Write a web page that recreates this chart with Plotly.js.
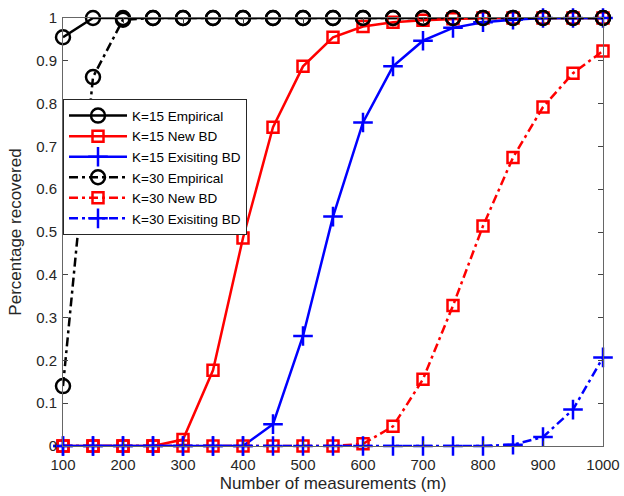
<!DOCTYPE html>
<html>
<head>
<meta charset="utf-8">
<script src="https://cdn.plot.ly/plotly-3.0.1.min.js"></script>
<style>html,body{margin:0;padding:0;background:#fff;}#chart{width:624px;height:496px;}</style>
</head>
<body>
<div id="chart"></div>
<script>
var m = [100,150,200,250,300,350,400,450,500,550,600,650,700,750,800,850,900,950,1000];
var k15Empirical = [0.955,1,1,1,1,1,1,1,1,1,1,1,1,1,1,1,1,1,1];
var k15NewBD = [0,0,0,0,0.015,0.177,0.486,0.745,0.887,0.955,0.98,0.99,0.995,0.998,1,1,1,1,1];
var k15ExistingBD = [0,0,0,0,0,0,0,0.051,0.257,0.536,0.756,0.887,0.947,0.977,0.99,0.996,1,1,1];
var k30Empirical = [0.14,0.862,0.996,1,1,1,1,1,1,1,1,1,1,1,1,1,1,1,1];
var k30NewBD = [0,0,0,0,0,0,0,0,0,0,0.005,0.046,0.156,0.328,0.514,0.674,0.792,0.871,0.923];
var k30ExistingBD = [0,0,0,0,0,0,0,0,0,0,0,0,0,0,0,0.003,0.021,0.085,0.207];
var names = ["K=15 Empirical","K=15 New BD","K=15 Exisiting BD","K=30 Empirical","K=30 New BD","K=30 Exisiting BD"];

var FONT = 'Liberation Sans, Arial, Helvetica, sans-serif';
var DASHDOT = '9px,4px,3px,4px';
function tr(y, name, color, dash, symbol, size) {
  return {
    x: m, y: y, name: name, type: 'scatter', mode: 'lines+markers', cliponaxis: false,
    line: {color: color, width: 2.5, dash: dash},
    marker: {symbol: symbol, size: size, color: color, line: {color: color, width: 2.5}}
  };
}
var data = [
  tr(k15Empirical, names[0], '#000000', 'solid', 'circle-open', 14),
  tr(k15NewBD, names[1], '#ff0000', 'solid', 'square-open', 11),
  tr(k15ExistingBD, names[2], '#0000ff', 'solid', 'cross-thin-open', 14),
  tr(k30Empirical, names[3], '#000000', DASHDOT, 'circle-open', 14),
  tr(k30NewBD, names[4], '#ff0000', DASHDOT, 'square-open', 11),
  tr(k30ExistingBD, names[5], '#0000ff', DASHDOT, 'cross-thin-open', 14)
];
var axisCommon = {
  showline: true, linecolor: '#666666', linewidth: 1, mirror: 'ticks',
  ticks: 'inside', ticklen: 5, tickcolor: '#444444', showgrid: false, zeroline: false,
  tickfont: {family: FONT, size: 15, color: '#262626'}
};
var layout = {
  width: 624, height: 496,
  margin: {l: 63, r: 21, t: 18, b: 50},
  paper_bgcolor: '#ffffff', plot_bgcolor: '#ffffff',
  font: {family: FONT, color: '#262626'},
  showlegend: true,
  xaxis: Object.assign({}, axisCommon, {
    range: [100, 1000], tickvals: [100,200,300,400,500,600,700,800,900,1000],
    ticklabelstandoff: 5,
    title: {text: 'Number of measurements (m)', font: {family: FONT, size: 17, color: '#262626'}, standoff: 5}
  }),
  yaxis: Object.assign({}, axisCommon, {
    range: [0, 1], dtick: 0.1, tick0: 0,
    ticklabelstandoff: 2,
    title: {text: 'Percentage recovered', font: {family: FONT, size: 17, color: '#262626'}, standoff: 10}
  }),
  legend: {
    x: 0.0, y: 0.81, xanchor: 'left', yanchor: 'top',
    bgcolor: '#ffffff', bordercolor: '#262626', borderwidth: 1,
    font: {family: FONT, size: 13.5, color: '#000000'},
    itemwidth: 58, tracegroupgap: 0
  }
};
Plotly.newPlot('chart', data, layout, {staticPlot: true});
</script>
</body>
</html>
